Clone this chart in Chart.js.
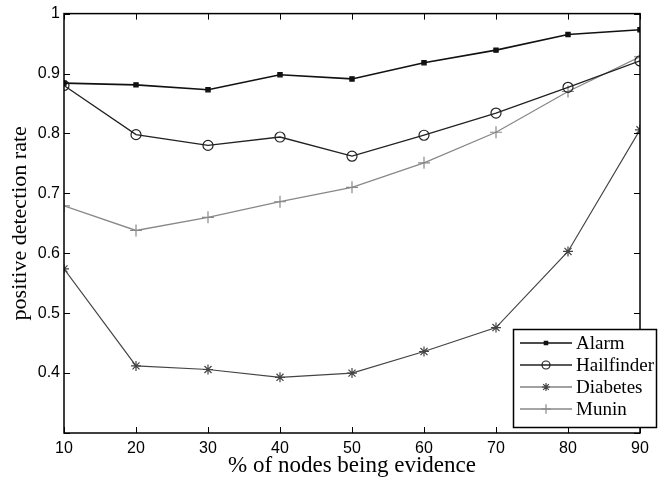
<!DOCTYPE html>
<html>
<head>
<meta charset="utf-8">
<script src="https://cdn.jsdelivr.net/npm/chart.js@4.4.1/dist/chart.umd.min.js"></script>
<style>
  html, body { margin: 0; padding: 0; background: #fff; }
  #wrap { width: 658px; height: 481px; position: relative; }
</style>
</head>
<body>
<div id="wrap"><canvas id="rateChart"></canvas></div>
<script>
const evidencePct = [10, 20, 30, 40, 50, 60, 70, 80, 90];
const alarm = [0.884, 0.881, 0.873, 0.898, 0.891, 0.918, 0.939, 0.965, 0.973];
const hailfinder = [0.880, 0.798, 0.780, 0.794, 0.762, 0.797, 0.834, 0.877, 0.921];
const diabetes = [0.574, 0.412, 0.406, 0.393, 0.400, 0.436, 0.476, 0.603, 0.806];
const munin = [0.679, 0.638, 0.660, 0.686, 0.710, 0.751, 0.802, 0.870, 0.928];
const yTicks = [0.3, 0.4, 0.5, 0.6, 0.7, 0.8, 0.9, 1];

const toPoints = (vals) => vals.map((v, i) => ({ x: evidencePct[i], y: v }));

// matlab-like frame: box on all sides, ticks pointing inward
const framePlugin = {
  id: "frame",
  afterDatasetsDraw(chart) {
    const { ctx, chartArea: a, scales } = chart;
    ctx.save();
    ctx.strokeStyle = "#000";
    ctx.lineWidth = 1.5;
    ctx.strokeRect(a.left, a.top, a.right - a.left, a.bottom - a.top);
    ctx.lineWidth = 1;
    const len = 6;
    ctx.beginPath();
    evidencePct.forEach((v) => {
      const px = Math.round(scales.x.getPixelForValue(v)) + 0.5;
      ctx.moveTo(px, a.bottom); ctx.lineTo(px, a.bottom - len);
      ctx.moveTo(px, a.top); ctx.lineTo(px, a.top + len);
    });
    yTicks.forEach((v) => {
      const py = Math.round(scales.y.getPixelForValue(v)) + 0.5;
      ctx.moveTo(a.left, py); ctx.lineTo(a.left + len, py);
      ctx.moveTo(a.right, py); ctx.lineTo(a.right - len, py);
    });
    ctx.stroke();
    ctx.restore();
  }
};

// boxed legend in the lower right corner
const legendBoxPlugin = {
  id: "legendBox",
  afterDraw(chart) {
    const { ctx } = chart;
    const x0 = 513, y0 = 329, w = 143, h = 98;
    ctx.save();
    ctx.fillStyle = "#fff";
    ctx.fillRect(x0, y0, w, h);
    ctx.strokeStyle = "#000";
    ctx.lineWidth = 1.5;
    ctx.strokeRect(x0 + 0.5, y0 + 0.5, w, h);
    ctx.font = "19px 'Liberation Serif', 'Times New Roman', serif";
    ctx.textBaseline = "middle";
    chart.data.datasets.forEach((ds, i) => {
      const y = y0 + 14 + i * 22;
      ctx.strokeStyle = ds.borderColor;
      ctx.lineWidth = ds.borderWidth;
      ctx.beginPath();
      ctx.moveTo(520, y); ctx.lineTo(572, y);
      ctx.stroke();
      ctx.strokeStyle = ds.pointBorderColor;
      ctx.fillStyle = ds.pointBackgroundColor;
      ctx.lineWidth = ds.pointBorderWidth;
      Chart.helpers.drawPoint(ctx, {
        pointStyle: ds.pointStyle,
        radius: ds.pointRadius * 0.8,
        borderWidth: ds.pointBorderWidth,
        rotation: 0
      }, 546, y);
      ctx.fillStyle = "#000";
      ctx.fillText(ds.label, 576, y + 1);
    });
    ctx.restore();
  }
};

function makeSet(label, vals, color, style, radius, width, fill) {
  return {
    label,
    data: toPoints(vals),
    borderColor: color,
    backgroundColor: fill,
    pointBorderColor: color,
    pointBackgroundColor: fill,
    pointStyle: style,
    pointRadius: radius,
    pointBorderWidth: 1.2,
    borderWidth: width,
    tension: 0
  };
}

new Chart(document.getElementById("rateChart"), {
  type: "line",
  data: {
    datasets: [
      makeSet("Alarm", alarm, "#111", "rect", 3, 1.6, "#111"),
      makeSet("Hailfinder", hailfinder, "#222", "circle", 5, 1.3, "rgba(255,255,255,0)"),
      makeSet("Diabetes", diabetes, "#444", "star", 5, 1.2, "#444"),
      makeSet("Munin", munin, "#888", "cross", 6, 1.3, "#888")
    ]
  },
  options: {
    responsive: true,
    maintainAspectRatio: false,
    animation: false,
    layout: { padding: { top: 13, right: 18, left: 0, bottom: 0 } },
    plugins: { legend: { display: false }, tooltip: { enabled: false } },
    scales: {
      x: {
        type: "linear",
        min: 10,
        max: 90,
        afterBuildTicks: (s) => { s.ticks = evidencePct.map((v) => ({ value: v })); },
        afterFit: (s) => { s.height = 48; },
        grid: { display: false, drawTicks: false },
        border: { display: false },
        ticks: {
          color: "#000",
          padding: 6,
          font: { family: "'Liberation Sans', Arial, sans-serif", size: 16 }
        },
        title: {
          display: true,
          text: "% of nodes being evidence",
          color: "#000",
          padding: { top: 0, bottom: 1 },
          font: { family: "'Liberation Serif', 'Times New Roman', serif", size: 23 }
        }
      },
      y: {
        min: 0.3,
        max: 1,
        afterBuildTicks: (s) => { s.ticks = yTicks.map((v) => ({ value: v })); },
        afterFit: (s) => { s.width = 64; },
        grid: { display: false, drawTicks: false },
        border: { display: false },
        ticks: {
          color: "#000",
          padding: 4,
          font: { family: "'Liberation Sans', Arial, sans-serif", size: 16 },
          callback: (v) => (v === 0.3 ? "" : String(Math.round(v * 10) / 10))
        },
        title: {
          display: true,
          text: "positive detection rate",
          color: "#000",
          padding: { top: 7, bottom: 0 },
          font: { family: "'Liberation Serif', 'Times New Roman', serif", size: 22 }
        }
      }
    }
  },
  plugins: [framePlugin, legendBoxPlugin]
});
</script>
</body>
</html>
